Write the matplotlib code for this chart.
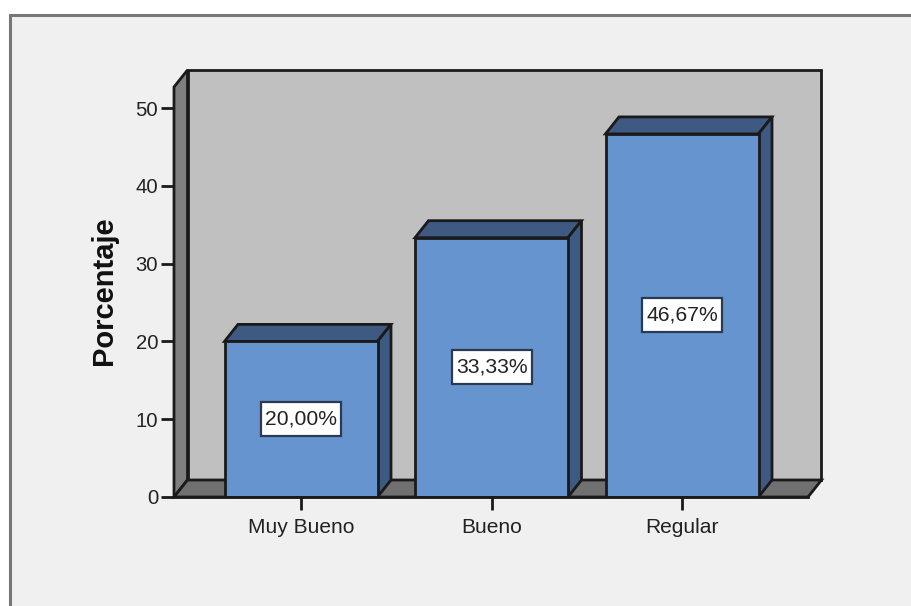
import matplotlib
matplotlib.use('Agg')
import matplotlib.pyplot as plt
from matplotlib.patches import Polygon, Rectangle

categories = ['Muy Bueno', 'Bueno', 'Regular']
values = [20.00, 33.33, 46.67]
labels = ['20,00%', '33,33%', '46,67%']
yticks = [0, 10, 20, 30, 40, 50]

W, H = 912, 606
C_BAR = '#6694cf'
C_DARK = '#3e5a82'
C_WALL = '#c0c0c0'
C_SIDE = '#7f7f7f'
C_BG = '#f0f0f0'
C_LINE = '#1a1a1a'
C_TEXT = '#222222'
LW = 2.0

plt.rcParams['font.family'] = ['Liberation Sans', 'DejaVu Sans']

fig = plt.figure(figsize=(W / 100, H / 100), dpi=100, facecolor='white')
fig.patches.append(Rectangle((10.5 / W, -0.1), 1.1, (H - 14.5) / H + 0.1, transform=fig.transFigure,
                             fc=C_BG, ec='#777777', lw=2.2, zorder=-1))

# front plane of the 3d box, in pixels
left, right, bottom, top = 174, 808, 497, 87
ax = fig.add_axes([left / W, (H - bottom) / H, (right - left) / W, (bottom - top) / H])
ax.patch.set_visible(False)
px_x = 190.5
px_y = 7.78
ax.set_xlim((left - 301) / px_x, (right - 301) / px_x)
ax.set_ylim(0, (bottom - top) / px_y)
dx = 13.5 / px_x
dy = 17 / px_y
x0, x1 = ax.get_xlim()
y0, y1 = ax.get_ylim()

def poly(pts, fc, z=1):
  ax.add_patch(Polygon(pts, closed=True, fc=fc, ec=C_LINE, lw=LW, clip_on=False, zorder=z, joinstyle='miter'))

poly([(x0 + dx, y0 + dy), (x1 + dx, y0 + dy), (x1 + dx, y1 + dy), (x0 + dx, y1 + dy)], C_WALL)
poly([(x0, y0), (x0 + dx, y0 + dy), (x0 + dx, y1 + dy), (x0, y1)], C_SIDE)
poly([(x0, y0), (x1, y0), (x1 + dx, y0 + dy), (x0 + dx, y0 + dy)], '#707070')

pos = list(range(len(categories)))
w = 153 / px_x
box_w = 80 / px_x
box_h = 34 / px_y
ax.bar(pos, values, width=w, color=C_BAR, edgecolor=C_LINE, linewidth=LW, zorder=3)
for p, v, s in zip(pos, values, labels):
  a, b = p - w / 2, p + w / 2
  poly([(a, v), (b, v), (b + dx, v + dy), (a + dx, v + dy)], C_DARK, 2)
  poly([(b, 0), (b + dx, dy), (b + dx, v + dy), (b, v)], C_DARK, 2)
  ax.add_patch(Rectangle((p - box_w / 2, v / 2 - box_h / 2), box_w, box_h, fc='white', ec='#2a3a50', lw=1.6, zorder=4))
  ax.text(p, v / 2, s, fontsize=15.2, color=C_TEXT, ha='center', va='center', zorder=5)

for s in ax.spines.values():
  s.set_visible(False)
ax.set_xticks(pos)
ax.set_xticklabels(categories)
ax.set_yticks(yticks)
ax.tick_params(axis='both', labelsize=14.6, length=9.5, width=LW, color=C_LINE, labelcolor=C_TEXT, pad=2)
ax.tick_params(axis='x', labelsize=15.1, pad=5.5)
ax.axhline(0, color=C_LINE, lw=LW, clip_on=False, zorder=4)
fig.text(104.5 / W, 1 - 291 / H, 'Porcentaje', rotation=90, fontsize=21, fontweight='bold',
         color='#111111', ha='center', va='center')

fig.savefig('out.png', dpi=100, facecolor='white')
